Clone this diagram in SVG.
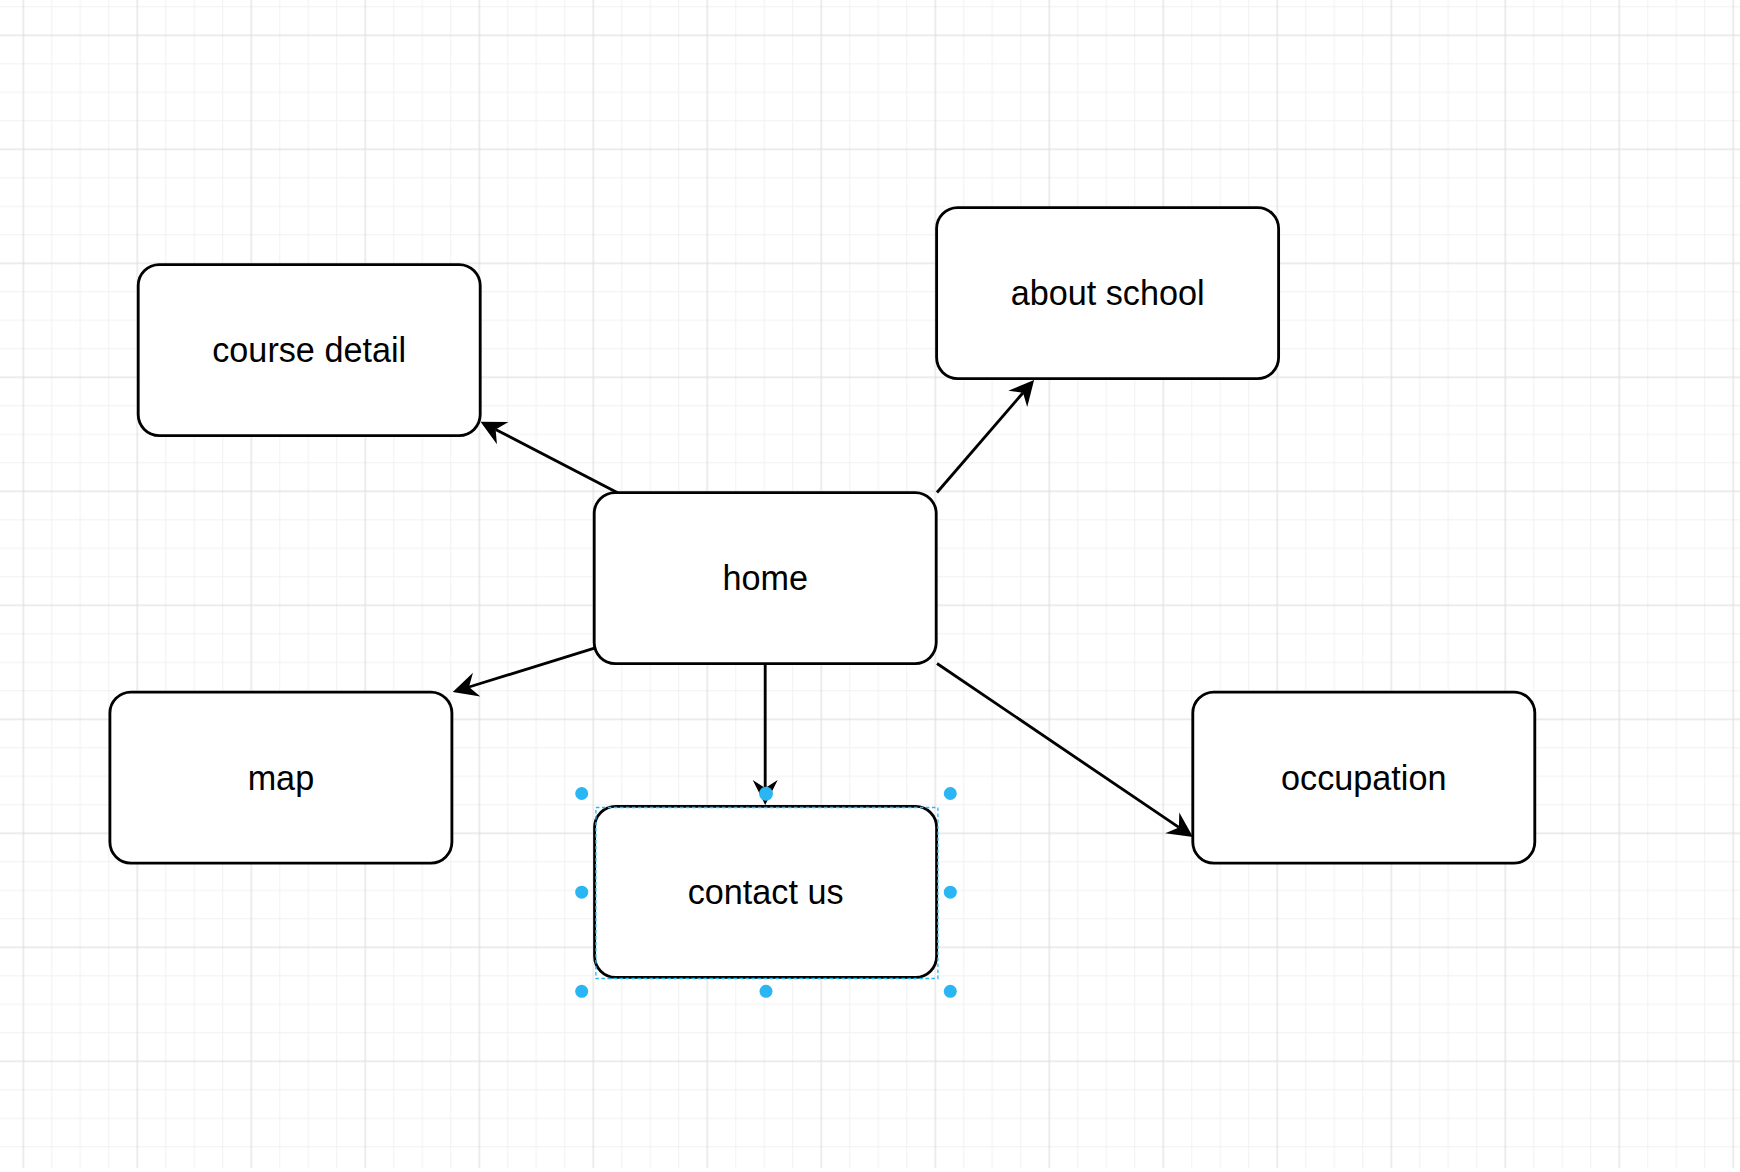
<svg xmlns="http://www.w3.org/2000/svg" width="1740" height="1172" viewBox="0 0 1740 1172">
  <style>
    .box { fill: #ffffff; stroke: #000000; stroke-width: 2.85; }
    .lbl { font-family: "Liberation Sans", Arial, Helvetica, sans-serif; font-size: 34.2px; fill: #000000; text-anchor: middle; }
    .edge { fill: none; stroke: #000000; stroke-width: 2.85; marker-end: url(#arrow); }
    .sel { fill: none; stroke: #29b6f2; stroke-width: 1.3; stroke-dasharray: 3.5 2.5; }
    .handle { fill: #29b6f2; stroke: none; }
    .minor { stroke: #f1f1f1; stroke-width: 1; fill: none; }
    .major { stroke: #dadada; stroke-width: 1; fill: none; }
  </style>
  <defs>
    <pattern id="grid" patternUnits="userSpaceOnUse" x="22.3" y="34.3" width="114" height="114">
      <path class="minor" d="M29.5,0 V114 M58,0 V114 M86.5,0 V114 M0,29.5 H114 M0,58 H114 M0,86.5 H114"/>
      <path class="major" d="M1,0 V114 M0,1 H114"/>
    </pattern>
    <marker id="arrow" markerUnits="userSpaceOnUse" viewBox="-28 -14 30 28" refX="-17" refY="0" markerWidth="30" markerHeight="28" orient="auto">
      <path d="M0,0 L-25,-12.5 L-17,0 L-25,12.5 Z" fill="#000000" stroke="none"/>
    </marker>
  </defs>

  <rect x="0" y="0" width="1740" height="1172" fill="#ffffff"/>
  <rect x="0" y="0" width="1740" height="1168" fill="url(#grid)"/>

  <g id="connectors">
    <path class="edge" d="M624,497 L619,493.5 L495.6,429.5"/>
    <path class="edge" d="M937,492.5 L1023,392.8"/>
    <path class="edge" d="M594.5,648.2 L469,687"/>
    <path class="edge" d="M765.2,663.6 L765.2,788"/>
    <path class="edge" d="M937,663.5 L1178.9,827.4"/>
  </g>

  <g id="node-course-detail">
    <rect class="box" x="138.2" y="264.6" width="342" height="171" rx="21" ry="21"/>
    <text class="lbl" x="309.2" y="362.1">course detail</text>
  </g>
  <g id="node-about-school">
    <rect class="box" x="936.6" y="207.6" width="342" height="171" rx="21" ry="21"/>
    <text class="lbl" x="1107.6" y="305.1">about school</text>
  </g>
  <g id="node-home">
    <rect class="box" x="594.2" y="492.6" width="342" height="171" rx="21" ry="21"/>
    <text class="lbl" x="765.2" y="590.1">home</text>
  </g>
  <g id="node-map">
    <rect class="box" x="109.9" y="692.1" width="342" height="171" rx="21" ry="21"/>
    <text class="lbl" x="280.9" y="789.6">map</text>
  </g>
  <g id="node-occupation">
    <rect class="box" x="1192.8" y="692.1" width="342" height="171" rx="21" ry="21"/>
    <text class="lbl" x="1363.8" y="789.6">occupation</text>
  </g>
  <g id="node-contact-us">
    <rect class="box" x="594.6" y="806.3" width="342" height="171" rx="21" ry="21"/>
    <text class="lbl" x="765.6" y="903.8">contact us</text>
  </g>

  <g id="selection">
    <rect class="sel" x="595.9" y="807.5" width="342" height="171"/>
    <circle class="handle" cx="581.7" cy="793.5" r="6.5"/>
    <circle class="handle" cx="766" cy="793.8" r="7"/>
    <circle class="handle" cx="950.3" cy="793.5" r="6.5"/>
    <circle class="handle" cx="581.7" cy="892.2" r="6.5"/>
    <circle class="handle" cx="950.3" cy="892.2" r="6.5"/>
    <circle class="handle" cx="581.7" cy="991.3" r="6.5"/>
    <circle class="handle" cx="766" cy="991.3" r="6.5"/>
    <circle class="handle" cx="950.3" cy="991.3" r="6.5"/>
  </g>
</svg>
